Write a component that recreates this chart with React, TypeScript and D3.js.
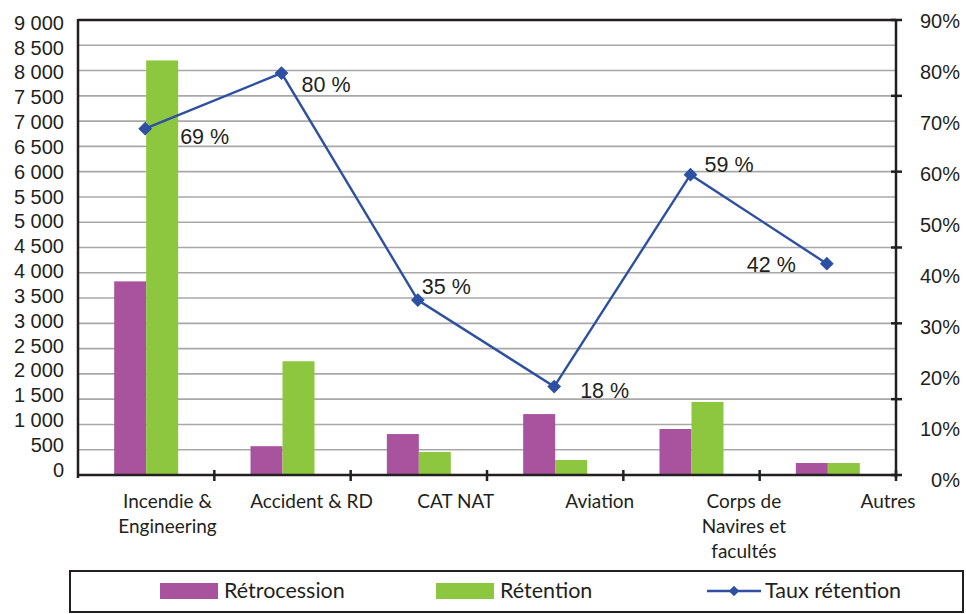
import React from "react";
import * as d3 from "d3";

const categories = ["Incendie & Engineering", "Accident & RD", "CAT NAT", "Aviation", "Corps de Navires et facultés", "Autres"];
const categoryLines = [["Incendie &", "Engineering"], ["Accident & RD"], ["CAT NAT"], ["Aviation"], ["Corps de", "Navires et", "facultés"], ["Autres"]];
const retrocession = [3830, 570, 810, 1205, 910, 237];
const retention = [8200, 2250, 455, 297, 1445, 237];
const tauxRetention = [68.5, 79.5, 34.6, 17.5, 59.4, 41.8];
const leftTicks = [0, 500, 1000, 1500, 2000, 2500, 3000, 3500, 4000, 4500, 5000, 5500, 6000, 6500, 7000, 7500, 8000, 8500, 9000];
const rightLabels = [0, 10, 20, 30, 40, 50, 60, 70, 80, 90];
const rightTickMarks = [0, 15, 30, 45, 60, 75, 90];
const seriesNames = ["Rétrocession", "Rétention", "Taux rétention"];
// label placement offsets (dx, dy) relative to each point
const labelOffsets = [[35, 15], [20, 19], [4, -6], [26, 11], [14, -3], [-80, 8]];

const W = 966, H = 614;
const plot = { left: 78, right: 896, top: 20, bottom: 475 };
const colRetro = "#A9539F";
const colRet = "#8DC63F";
const colLine = "#2E50A2";
const axisCol = "#231F20";
const gridCol = "#A8A8A8";
const numFont = "'Liberation Sans', Arial, sans-serif";
const catFont = "Lato, 'Open Sans', sans-serif";

const fmtThousands = (v: number) => String(v).replace(/\B(?=(\d{3})+(?!\d))/g, " ");

export default function App() {
  const x = d3.scaleBand<string>().domain(categories).range([plot.left, plot.right]).paddingInner(0).paddingOuter(0);
  const bw = x.bandwidth();
  const barW = 32;
  const pOuter = (bw / barW - 2) / 2;
  const xInner = d3.scaleBand<string>().domain(["r", "t"]).range([0, bw]).paddingInner(0).paddingOuter(pOuter);
  const y = d3.scaleLinear().domain([0, 9000]).range([plot.bottom, plot.top]);
  const yLab = d3.scaleLinear().domain([0, 9000]).range([469.5, 22.5]);
  const yR = d3.scaleLinear().domain([0, 90]).range([plot.bottom, plot.top]);
  const yRLab = d3.scaleLinear().domain([0, 90]).range([479.5, 21]);
  const xLab = d3.scalePoint<string>().domain(categories).range([167.5, 888]);

  const pts: [number, number][] = categories.map((c, i) => [(x(c) as number) + bw / 2 - 1, yR(tauxRetention[i])]);
  const line = d3.line()(pts) as string;
  const diamond = d3.symbol().type(d3.symbolSquare).size(95)() as string;

  return (
    <svg width={W} height={H} style={{ position: "absolute", left: 0, top: 0, background: "#fff" }}>
      {/* gridlines */}
      {leftTicks.filter(t => t > 0 && t < 9000).map(t => (
        <line key={"g" + t} x1={plot.left} x2={plot.right} y1={y(t)} y2={y(t)} stroke={gridCol} strokeWidth={1.6} />
      ))}
      {/* bars */}
      {categories.map((c, i) => (
        <g key={"b" + c}>
          <rect x={(x(c) as number) + (xInner("r") as number)} y={y(retrocession[i])} width={xInner.bandwidth()} height={y(0) - y(retrocession[i])} fill={colRetro} />
          <rect x={(x(c) as number) + (xInner("t") as number)} y={y(retention[i])} width={xInner.bandwidth()} height={y(0) - y(retention[i])} fill={colRet} />
        </g>
      ))}
      {/* frame/axes */}
      <line x1={plot.left} x2={plot.right} y1={plot.top} y2={plot.top} stroke={axisCol} strokeWidth={2.5} />
      <line x1={plot.left} x2={plot.left} y1={plot.top - 1} y2={plot.bottom + 3} stroke={axisCol} strokeWidth={2.5} />
      <line x1={plot.right} x2={plot.right} y1={plot.top - 1} y2={plot.bottom + 3} stroke={axisCol} strokeWidth={2.5} />
      <line x1={plot.left} x2={plot.right} y1={plot.bottom} y2={plot.bottom} stroke={axisCol} strokeWidth={2.5} />
      {/* x tick marks */}
      {categories.map(c => (
        <line key={"xt" + c} x1={(x(c) as number) + bw} x2={(x(c) as number) + bw} y1={plot.bottom - 5} y2={plot.bottom + 6} stroke={axisCol} strokeWidth={2.5} />
      ))}
      {/* right tick marks */}
      {rightTickMarks.map(t => (
        <line key={"rt" + t} x1={plot.right - 5} x2={plot.right + 6} y1={yR(t)} y2={yR(t)} stroke={axisCol} strokeWidth={2.5} />
      ))}
      {/* left labels */}
      {leftTicks.map(t => (
        <text key={"ll" + t} x={64} y={yLab(t)} dy="0.36em" textAnchor="end" fontFamily={numFont} fontSize={20} fill="#231F20">{fmtThousands(t)}</text>
      ))}
      {/* right labels */}
      {rightLabels.map(t => (
        <text key={"rl" + t} x={960} y={yRLab(t)} dy="0.36em" textAnchor="end" fontFamily={numFont} fontSize={20} fill="#231F20">{t + "%"}</text>
      ))}
      {/* category labels */}
      {categories.map((c, i) => (
        <text key={"cl" + c} x={xLab(c)} y={508} textAnchor="middle" fontFamily={catFont} fontSize={19} fill="#231F20">
          {categoryLines[i].map((l, j) => (
            <tspan key={j} x={xLab(c)} dy={j === 0 ? 0 : 25}>{l}</tspan>
          ))}
        </text>
      ))}
      {/* line series */}
      <path d={line} fill="none" stroke={colLine} strokeWidth={2.4} />
      {pts.map((p, i) => (
        <path key={"m" + i} d={diamond} transform={`translate(${p[0]},${p[1]}) rotate(45)`} fill={colLine} />
      ))}
      {pts.map((p, i) => (
        <text key={"dl" + i} x={p[0] + labelOffsets[i][0]} y={p[1] + labelOffsets[i][1]} fontFamily={numFont} fontSize={21.5} fill="#231F20">
          {Math.round(tauxRetention[i]) + " %"}
        </text>
      ))}
      {/* legend */}
      <rect x={70} y={571} width={893} height={41} fill="#fff" stroke={axisCol} strokeWidth={2} />
      <rect x={160} y={583} width={58} height={16} fill={colRetro} />
      <text x={224} y={598} fontFamily={catFont} fontSize={21.5} fill="#231F20">{seriesNames[0]}</text>
      <rect x={436} y={583} width={58} height={16} fill={colRet} />
      <text x={500} y={598} fontFamily={catFont} fontSize={21.5} fill="#231F20">{seriesNames[1]}</text>
      <line x1={707} x2={761} y1={591} y2={591} stroke={colLine} strokeWidth={2.4} />
      <path d={d3.symbol().type(d3.symbolSquare).size(55)() as string} transform="translate(734,591) rotate(45)" fill={colLine} />
      <text x={765} y={598} fontFamily={catFont} fontSize={21.5} fill="#231F20">{seriesNames[2]}</text>
    </svg>
  );
}
